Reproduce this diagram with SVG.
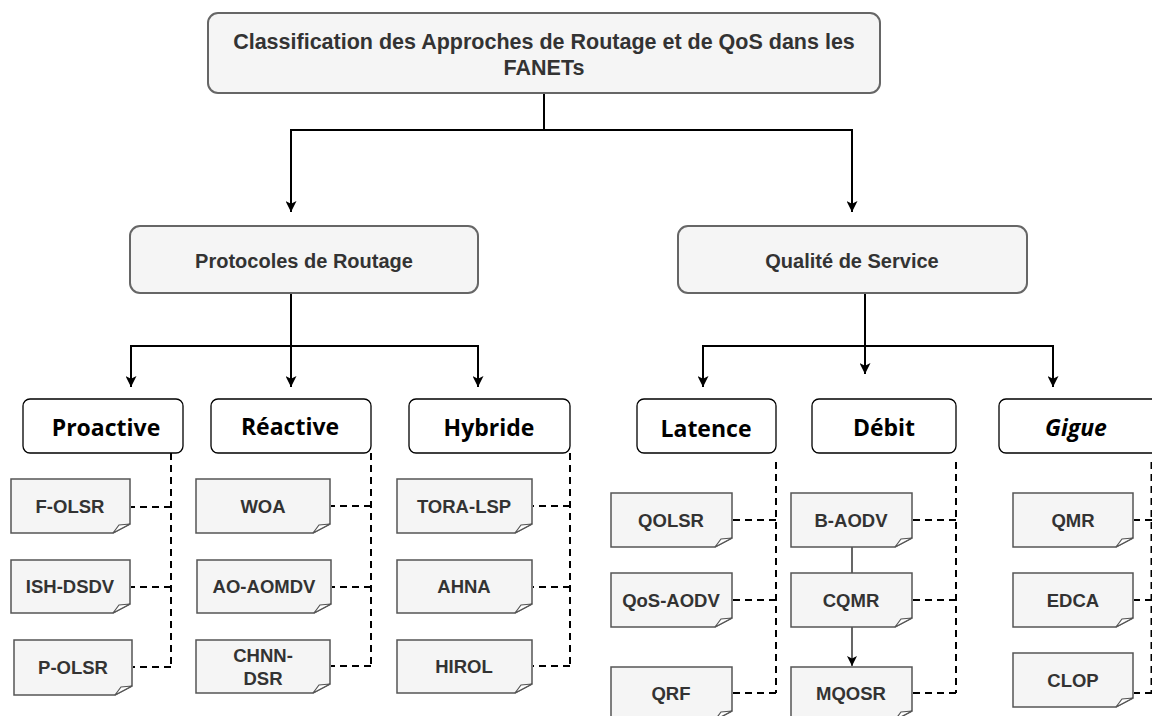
<svg xmlns="http://www.w3.org/2000/svg" width="1152" height="716" viewBox="0 0 1152 716">
  <defs>
    <marker id="arrow" viewBox="0 0 10 10" refX="10" refY="5" markerWidth="11" markerHeight="11" markerUnits="userSpaceOnUse" orient="auto">
      <path d="M0,0 L10,5 L0,10 L2.5,5 Z" fill="#000"/>
    </marker>
    <marker id="arrowSmall" viewBox="0 0 10 10" refX="10" refY="5" markerWidth="10" markerHeight="10" markerUnits="userSpaceOnUse" orient="auto">
      <path d="M0,0 L10,5 L0,10 L2.5,5 Z" fill="#000"/>
    </marker>
    <style>
      .hdr { fill: #f5f5f5; stroke: #666666; stroke-width: 2; }
      .hdr-text { font-family: "Liberation Sans", Arial, sans-serif; font-weight: bold; fill: #333333; text-anchor: middle; }
      .cat { fill: #ffffff; stroke: #000000; stroke-width: 1.3; }
      .cat-text { font-family: "Open Sans", "DejaVu Sans", sans-serif; font-weight: bold; font-size: 23px; fill: #000000; text-anchor: middle; }
      .note { fill: #f5f5f5; stroke: #555555; stroke-width: 1.5; stroke-linejoin: miter; }
      .fold { fill: #ffffff; stroke: #555555; stroke-width: 1.2; }
      .note-text { font-family: "Liberation Sans", Arial, sans-serif; font-weight: bold; font-size: 18.5px; fill: #333333; text-anchor: middle; }
      .link { fill: none; stroke: #000000; stroke-width: 2; }
      .thin { fill: none; stroke: #000000; stroke-width: 1.2; }
      .dash { fill: none; stroke: #000000; stroke-width: 2; stroke-dasharray: 7 5; }
    </style>
  </defs>

  <!-- connectors -->
  <g id="connectors">
    <!-- root to the two main branches -->
    <path class="link" d="M544,93 V130 H291 V212" marker-end="url(#arrow)"/>
    <path class="link" d="M544,130 H852 V212" marker-end="url(#arrow)"/>
    <!-- routing protocols to families -->
    <path class="link" d="M291,293 V346 H131 V387" marker-end="url(#arrow)"/>
    <path class="link" d="M291,346 V387" marker-end="url(#arrow)"/>
    <path class="link" d="M291,346 H478 V387" marker-end="url(#arrow)"/>
    <!-- quality of service to metrics -->
    <path class="link" d="M865,293 V346 H703 V387" marker-end="url(#arrow)"/>
    <path class="link" d="M865,346 V374" marker-end="url(#arrow)"/>
    <path class="link" d="M865,346 H1053 V387" marker-end="url(#arrow)"/>

    <!-- Proactive column -->
    <path class="dash" d="M171,453 V667"/>
    <path class="dash" d="M171,507 H131"/>
    <path class="dash" d="M171,587 H131"/>
    <path class="dash" d="M171,667 H133"/>
    <!-- Réactive column -->
    <path class="dash" d="M371,453 V666"/>
    <path class="dash" d="M371,506 H331"/>
    <path class="dash" d="M371,587 H332"/>
    <path class="dash" d="M371,666 H331"/>
    <!-- Hybride column -->
    <path class="dash" d="M570,453 V666"/>
    <path class="dash" d="M570,506 H533"/>
    <path class="dash" d="M570,587 H533"/>
    <path class="dash" d="M570,666 H533"/>
    <!-- Latence column -->
    <path class="dash" d="M776,462 V693"/>
    <path class="dash" d="M776,520 H733"/>
    <path class="dash" d="M776,600 H733"/>
    <path class="dash" d="M776,693 H733"/>
    <!-- Débit column -->
    <path class="dash" d="M956,462 V693"/>
    <path class="dash" d="M956,520 H913"/>
    <path class="dash" d="M956,600 H913"/>
    <path class="dash" d="M956,693 H913"/>
    <!-- Gigue column -->
    <path class="dash" d="M1151.5,462 V693" stroke="#777"/>
    <path class="dash" d="M1152,520 H1134"/>
    <path class="dash" d="M1152,600 H1134"/>
    <path class="dash" d="M1152,693 H1134"/>
    <!-- chain inside Débit -->
    <path class="thin" d="M852,547 V573"/>
    <path class="thin" d="M852,627 V666" marker-end="url(#arrowSmall)"/>
  </g>

  <!-- root -->
  <g id="root">
    <rect class="hdr" x="208" y="13" width="672" height="80" rx="10"/>
    <text class="hdr-text" x="544" y="49" font-size="21.5">Classification des Approches de Routage et de QoS dans les</text>
    <text class="hdr-text" x="544" y="75" font-size="21.5">FANETs</text>
  </g>

  <g id="routing">
    <rect class="hdr" x="130" y="226" width="348" height="67" rx="10"/>
    <text class="hdr-text" x="304" y="268" font-size="20">Protocoles de Routage</text>
  </g>

  <g id="qos">
    <rect class="hdr" x="678" y="226" width="349" height="67" rx="10"/>
    <text class="hdr-text" x="852" y="268" font-size="20">Qualité de Service</text>
  </g>

  <!-- families / metrics -->
  <g id="proactive">
    <rect class="cat" x="23" y="399" width="160" height="54" rx="7"/>
    <text class="cat-text" x="106" y="436">Proactive</text>
  </g>
  <g id="reactive">
    <rect class="cat" x="211" y="399" width="160" height="54" rx="7"/>
    <text class="cat-text" x="290" y="435">Réactive</text>
  </g>
  <g id="hybride">
    <rect class="cat" x="409" y="399" width="161" height="54" rx="7"/>
    <text class="cat-text" x="489" y="436">Hybride</text>
  </g>
  <g id="latence">
    <rect class="cat" x="637" y="399" width="139" height="54" rx="7"/>
    <text class="cat-text" x="706" y="437">Latence</text>
  </g>
  <g id="debit">
    <rect class="cat" x="812" y="399" width="144" height="54" rx="7"/>
    <text class="cat-text" x="884" y="436">Débit</text>
  </g>
  <g id="gigue">
    <rect class="cat" x="999" y="399" width="160" height="54" rx="7"/>
    <text class="cat-text" x="1076" y="436" font-style="italic">Gigue</text>
  </g>

  <!-- leaf notes: rectangle with a curled bottom-right corner -->
  <g id="f-olsr">
    <path class="note" d="M11,479 H130 V524 L113,533 H11 Z"/>
    <path class="fold" d="M113,533 L119,525 L130,524 Z"/>
    <text class="note-text" x="70" y="513">F-OLSR</text>
  </g>
  <g id="ish-dsdv">
    <path class="note" d="M11,560 H130 V604 L113,613 H11 Z"/>
    <path class="fold" d="M113,613 L119,605 L130,604 Z"/>
    <text class="note-text" x="70" y="593">ISH-DSDV</text>
  </g>
  <g id="p-olsr">
    <path class="note" d="M14,640 H132 V686 L115,695 H14 Z"/>
    <path class="fold" d="M115,695 L121,687 L132,686 Z"/>
    <text class="note-text" x="73" y="674">P-OLSR</text>
  </g>

  <g id="woa">
    <path class="note" d="M196,479 H330 V524 L313,533 H196 Z"/>
    <path class="fold" d="M313,533 L319,525 L330,524 Z"/>
    <text class="note-text" x="263" y="513">WOA</text>
  </g>
  <g id="ao-aomdv">
    <path class="note" d="M197,560 H331 V604 L314,613 H197 Z"/>
    <path class="fold" d="M314,613 L320,605 L331,604 Z"/>
    <text class="note-text" x="264" y="593">AO-AOMDV</text>
  </g>
  <g id="chnn-dsr">
    <path class="note" d="M196,640 H330 V684 L313,693 H196 Z"/>
    <path class="fold" d="M313,693 L319,685 L330,684 Z"/>
    <text class="note-text" x="263" y="662">CHNN-</text>
    <text class="note-text" x="263" y="685">DSR</text>
  </g>

  <g id="tora-lsp">
    <path class="note" d="M397,479 H532 V524 L515,533 H397 Z"/>
    <path class="fold" d="M515,533 L521,525 L532,524 Z"/>
    <text class="note-text" x="464" y="513">TORA-LSP</text>
  </g>
  <g id="ahna">
    <path class="note" d="M397,560 H532 V604 L515,613 H397 Z"/>
    <path class="fold" d="M515,613 L521,605 L532,604 Z"/>
    <text class="note-text" x="464" y="593">AHNA</text>
  </g>
  <g id="hirol">
    <path class="note" d="M397,640 H532 V684 L515,693 H397 Z"/>
    <path class="fold" d="M515,693 L521,685 L532,684 Z"/>
    <text class="note-text" x="464" y="673">HIROL</text>
  </g>

  <g id="qolsr">
    <path class="note" d="M611,493 H732 V538 L715,547 H611 Z"/>
    <path class="fold" d="M715,547 L721,539 L732,538 Z"/>
    <text class="note-text" x="671" y="527">QOLSR</text>
  </g>
  <g id="qos-aodv">
    <path class="note" d="M611,573 H732 V618 L715,627 H611 Z"/>
    <path class="fold" d="M715,627 L721,619 L732,618 Z"/>
    <text class="note-text" x="671" y="607">QoS-AODV</text>
  </g>
  <g id="qrf">
    <path class="note" d="M611,667 H732 V711 L715,720 H611 Z"/>
    <path class="fold" d="M715,720 L721,712 L732,711 Z"/>
    <text class="note-text" x="671" y="700">QRF</text>
  </g>

  <g id="b-aodv">
    <path class="note" d="M791,493 H912 V538 L895,547 H791 Z"/>
    <path class="fold" d="M895,547 L901,539 L912,538 Z"/>
    <text class="note-text" x="851" y="527">B-AODV</text>
  </g>
  <g id="cqmr">
    <path class="note" d="M791,573 H912 V618 L895,627 H791 Z"/>
    <path class="fold" d="M895,627 L901,619 L912,618 Z"/>
    <text class="note-text" x="851" y="607">CQMR</text>
  </g>
  <g id="mqosr">
    <path class="note" d="M791,667 H912 V711 L895,720 H791 Z"/>
    <path class="fold" d="M895,720 L901,712 L912,711 Z"/>
    <text class="note-text" x="851" y="700">MQOSR</text>
  </g>

  <g id="qmr">
    <path class="note" d="M1013,493 H1133 V538 L1116,547 H1013 Z"/>
    <path class="fold" d="M1116,547 L1122,539 L1133,538 Z"/>
    <text class="note-text" x="1073" y="527">QMR</text>
  </g>
  <g id="edca">
    <path class="note" d="M1013,573 H1133 V618 L1116,627 H1013 Z"/>
    <path class="fold" d="M1116,627 L1122,619 L1133,618 Z"/>
    <text class="note-text" x="1073" y="607">EDCA</text>
  </g>
  <g id="clop">
    <path class="note" d="M1013,653 H1133 V698 L1116,707 H1013 Z"/>
    <path class="fold" d="M1116,707 L1122,699 L1133,698 Z"/>
    <text class="note-text" x="1073" y="687">CLOP</text>
  </g>
</svg>
